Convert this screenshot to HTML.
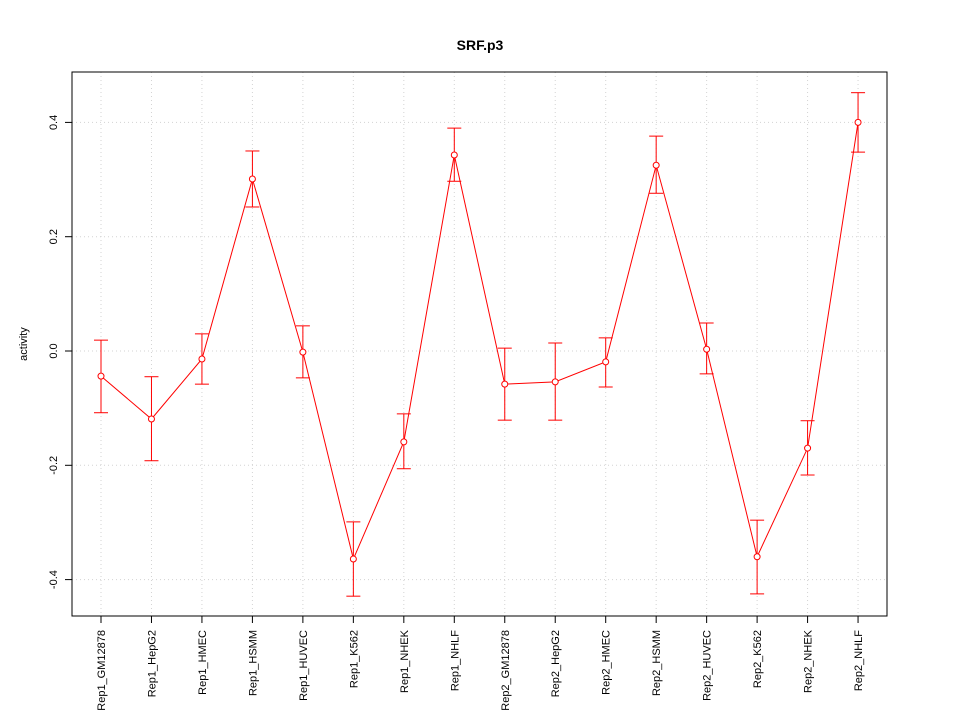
<!DOCTYPE html>
<html><head><meta charset="utf-8"><style>
body{margin:0;background:#fff}
svg{display:block;font-family:"Liberation Sans",sans-serif}
</style></head><body>
<svg id="chart" width="960" height="720"></svg>
<script>
const categories=["Rep1_GM12878","Rep1_HepG2","Rep1_HMEC","Rep1_HSMM","Rep1_HUVEC","Rep1_K562","Rep1_NHEK","Rep1_NHLF","Rep2_GM12878","Rep2_HepG2","Rep2_HMEC","Rep2_HSMM","Rep2_HUVEC","Rep2_K562","Rep2_NHEK","Rep2_NHLF"];
const values=[-0.044,-0.119,-0.014,0.301,-0.002,-0.364,-0.159,0.343,-0.058,-0.054,-0.019,0.325,0.003,-0.360,-0.170,0.400];
const upper=[0.019,-0.045,0.030,0.350,0.044,-0.299,-0.110,0.390,0.005,0.014,0.023,0.376,0.049,-0.296,-0.122,0.452];
const lower=[-0.108,-0.192,-0.058,0.252,-0.047,-0.429,-0.206,0.297,-0.121,-0.121,-0.063,0.276,-0.040,-0.425,-0.217,0.348];
const yTicks=[-0.4,-0.2,0.0,0.2,0.4];
const yTickLabels=["-0.4","-0.2","0.0","0.2","0.4"];

const svg=document.getElementById('chart');
const NS='http://www.w3.org/2000/svg';
const X=i=>101+i*50.47;
const Y=v=>351-v*571.5;
function mk(tag,attrs,parent){const e=document.createElementNS(NS,tag);for(const k in attrs)e.setAttribute(k,attrs[k]);(parent||svg).appendChild(e);return e;}

const grid=mk('g',{});


categories.forEach((c,i)=>mk('line',{x1:X(i),x2:X(i),y1:72,y2:616,stroke:'#d3d3d3','stroke-dasharray':'1,3'},grid));
yTicks.forEach(t=>mk('line',{x1:72,x2:887,y1:Y(t),y2:Y(t),stroke:'#d3d3d3','stroke-dasharray':'1,3'},grid));

const frame=mk('rect',{x:72,y:72,width:815,height:544,fill:'none',stroke:'#000'});



const title=mk('text',{x:480,y:50,'text-anchor':'middle','font-size':14,'font-weight':'bold'});
title.textContent='SRF.p3';



const yt=mk('text',{x:27,y:344,'text-anchor':'middle','font-size':11,transform:'rotate(-90 27 344)'});
yt.textContent='activity';



const yax=mk('g',{});


yTicks.forEach((t,k)=>{
  mk('line',{x1:65,x2:72,y1:Y(t),y2:Y(t),stroke:'#000'},yax);
  const l=mk('text',{x:57,y:Y(t),'text-anchor':'middle','font-size':11,transform:`rotate(-90 57 ${Y(t)})`},yax);
  l.textContent=yTickLabels[k];
});

const xax=mk('g',{});


categories.forEach((c,i)=>{
  mk('line',{x1:X(i),x2:X(i),y1:616,y2:623,stroke:'#000'},xax);
  const l=mk('text',{x:X(i)+4,y:630,'text-anchor':'end','font-size':11,transform:`rotate(-90 ${X(i)+4} 630)`},xax);
  l.textContent=c;
});

const series=mk('g',{});


mk('polyline',{points:values.map((v,i)=>X(i)+','+Y(v)).join(' '),fill:'none',stroke:'#ff0000'},series);
values.forEach((v,i)=>{
  const g=mk('g',{},series);
  
  
  mk('line',{x1:X(i),x2:X(i),y1:Y(upper[i]),y2:Y(lower[i]),stroke:'#ff0000'},g);
  mk('line',{x1:X(i)-7,x2:X(i)+7,y1:Y(upper[i]),y2:Y(upper[i]),stroke:'#ff0000'},g);
  mk('line',{x1:X(i)-7,x2:X(i)+7,y1:Y(lower[i]),y2:Y(lower[i]),stroke:'#ff0000'},g);
  const p=mk('circle',{cx:X(i),cy:Y(v),r:3,fill:'#fff',stroke:'#ff0000'},g);
  
  
});
</script>
</body></html>
